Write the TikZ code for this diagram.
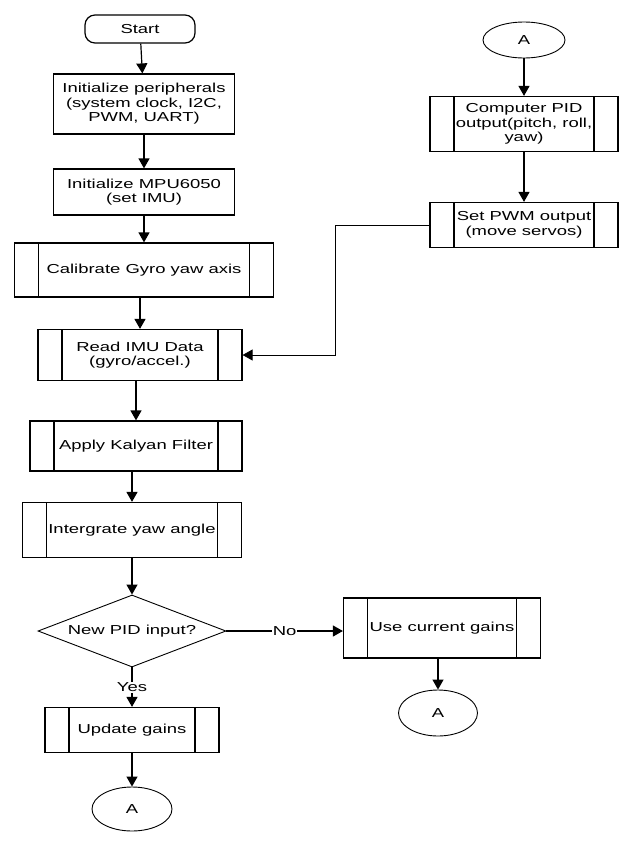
\documentclass[tikz,border=0pt]{standalone}
\usepackage{fontspec}
\setmainfont{Liberation Sans}[FakeStretch=1.42]
\usetikzlibrary{shapes.geometric,arrows.meta}

\tikzset{
  box/.style={draw, line width=1.2pt, inner sep=0pt, align=center, font=\fontsize{13}{14.5}\selectfont},
  sub/.style={box, path picture={
      \draw[line width=1.2pt] ([xshift=24pt]path picture bounding box.north west) -- ([xshift=24pt]path picture bounding box.south west);
      \draw[line width=1.2pt] ([xshift=-24pt]path picture bounding box.north east) -- ([xshift=-24pt]path picture bounding box.south east);}},
  conn/.style={draw, ellipse, line width=0.9pt, inner sep=0pt, font=\fontsize{13}{14.5}\selectfont},
  flow/.style={line width=1.2pt, -{Triangle[length=10pt,width=11pt]}},
  lbl/.style={fill=white, inner sep=1pt, font=\fontsize{13}{14.5}\selectfont}
}

\begin{document}
\begin{tikzpicture}[x=1pt, y=-1pt]
  \useasboundingbox (0,0) rectangle (634,846);
  % main column
  \node[box, rounded corners=10pt, minimum width=110pt, minimum height=28pt] (start) at (140,29) {Start};
  \node[box, minimum width=181pt, minimum height=60pt] (init) at (144,104) {Initialize peripherals\\(system clock, I2C,\\PWM, UART)};
  \node[box, minimum width=181pt, minimum height=46pt] (mpu) at (144,192) {Initialize MPU6050\\(set IMU)};
  \node[sub, minimum width=259pt, minimum height=54pt] (calib) at (144,270) {Calibrate Gyro yaw axis};
  \node[sub, minimum width=204pt, minimum height=51pt] (read) at (140,355) {Read IMU Data\\(gyro/accel.)};
  \node[sub, minimum width=212pt, minimum height=50pt] (kalman) at (136,446) {Apply Kalyan Filter};
  \node[sub, minimum width=219pt, minimum height=55pt] (integ) at (132,530) {Intergrate yaw angle};
  \node[box, diamond, aspect=2.61, line width=0.9pt, minimum width=188pt, minimum height=72pt] (pid) at (132,631) {New PID input?};
  \node[sub, minimum width=174pt, minimum height=45pt] (update) at (132,730) {Update gains};
  \node[conn, minimum width=80pt, minimum height=44pt] (a1) at (132,809) {A};
  % no branch
  \node[sub, minimum width=197pt, minimum height=60pt] (use) at (442,628) {Use current gains};
  \node[conn, minimum width=79pt, minimum height=46pt] (a2) at (438,713) {A};
  % right column
  \node[conn, minimum width=82pt, minimum height=36pt] (a0) at (524,40) {A};
  \node[sub, minimum width=188pt, minimum height=55pt] (compute) at (524,124) {Computer PID\\output(pitch, roll,\\yaw)};
  \node[sub, minimum width=188pt, minimum height=45pt] (setpwm) at (524,225) {Set PWM output\\(move servos)};
  \coordinate (fb) at (335,225);

  \draw[flow] (start) -- (init);
  \draw[flow] (init) -- (mpu);
  \draw[flow] (mpu) -- (calib);
  \draw[flow] (calib.south -| read.north) -- (read);
  \draw[flow] (read.south -| kalman.north) -- (kalman);
  \draw[flow] (kalman.south -| integ.north) -- (integ);
  \draw[flow] (integ) -- (pid);
  \draw[flow] (pid) -- node[lbl] {Yes} (update);
  \draw[flow] (update) -- (a1);
  \draw[flow] (pid.east) -- node[lbl] {No} (pid.east -| use.west);
  \draw[flow] (use.south -| a2.north) -- (a2);
  \draw[flow] (a0) -- (compute);
  \draw[flow] (compute) -- (setpwm);
  \draw[line width=0.8pt, -{Triangle[length=10pt,width=11pt]}] (setpwm.west) -- (fb) |- (read.east);
\end{tikzpicture}
\end{document}
